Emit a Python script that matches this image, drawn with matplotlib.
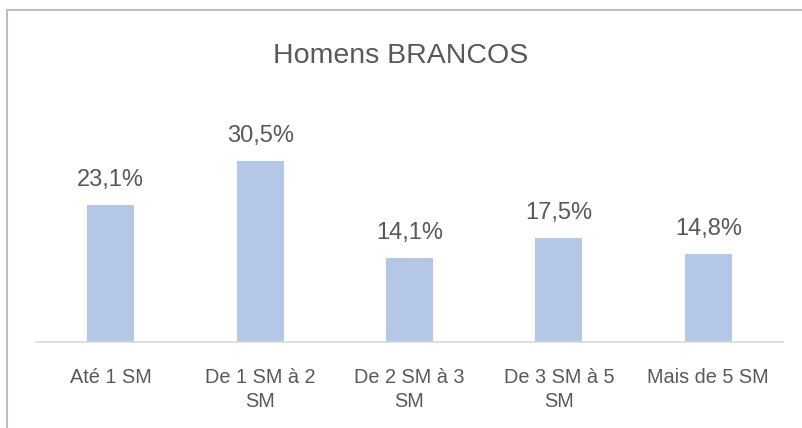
import matplotlib
matplotlib.use("Agg")
import matplotlib.pyplot as plt
from matplotlib.patches import Rectangle

# Data
categories = ["Até 1 SM", "De 1 SM à 2\nSM", "De 2 SM à 3\nSM", "De 3 SM à 5\nSM", "Mais de 5 SM"]
values = [23.1, 30.5, 14.1, 17.5, 14.8]
title = "Homens BRANCOS"

bar_color = "#B4C7E7"
text_color = "#595959"

plt.rcParams.update({
    "font.family": ["Liberation Sans", "DejaVu Sans"],
})

W, H = 802, 428
fig = plt.figure(figsize=(W / 100, H / 100), dpi=100)

# Chart frame (runs off the right and bottom edges in the reference)
frame = Rectangle((7 / W, -0.1), 1.1, 1.1 - 10 / H, transform=fig.transFigure,
                  fill=False, edgecolor="#BFBFBF", linewidth=1.5)
fig.patches.append(frame)

ax = fig.add_axes([36 / W, 1 - 342 / H, (783 - 36) / W, (342 - 100) / H])
x = range(len(categories))
bars = ax.bar(x, values, width=0.315, color=bar_color)

ax.set_xlim(-0.5, len(categories) - 0.5)
ax.set_ylim(0, 242 / 5.93)

for b, v in zip(bars, values):
    ax.annotate(f"{v:.1f}%".replace(".", ","), (b.get_x() + b.get_width() / 2, v),
                xytext=(0, 10), textcoords="offset points", ha="center", va="bottom",
                fontsize=17, color=text_color)

ax.set_xticks(list(x))
ax.set_xticklabels(categories, fontsize=14.3, color=text_color, linespacing=1.3)
ax.tick_params(axis="x", length=0, pad=19)
ax.set_yticks([])
for s in ["top", "right", "left"]:
    ax.spines[s].set_visible(False)
ax.spines["bottom"].set_color("#D9D9D9")
ax.spines["bottom"].set_linewidth(1.2)

fig.text(0.5, 1 - 56 / H, title, ha="center", va="center", fontsize=20.5, color=text_color)

fig.savefig("out.png", dpi=100)
